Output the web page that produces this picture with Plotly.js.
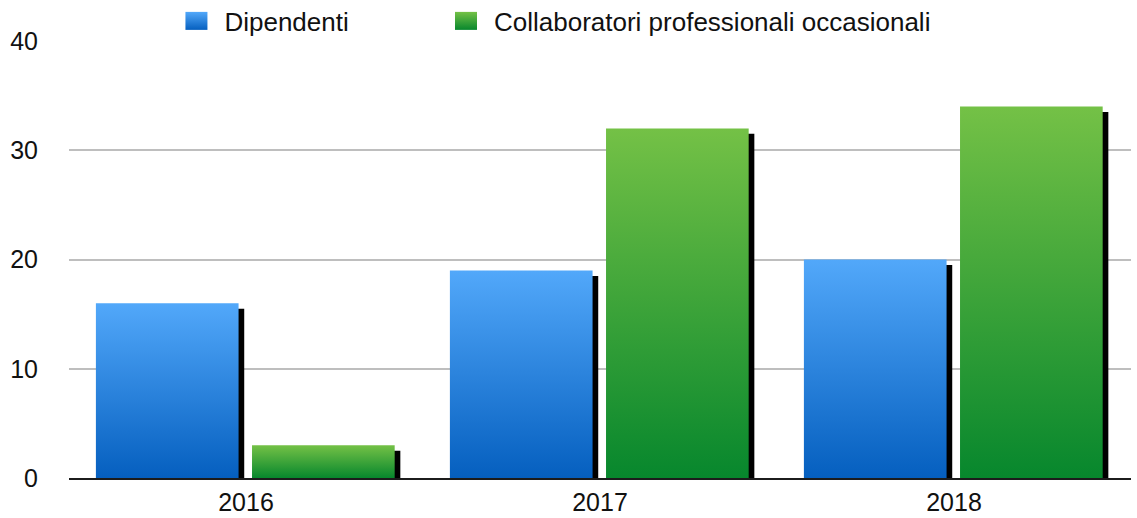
<!DOCTYPE html>
<html>
<head>
<meta charset="utf-8">
<script src="https://cdn.plot.ly/plotly-3.0.1.min.js"></script>
<style>
  html, body { margin: 0; padding: 0; background: #fff; }
  #chart { width: 1137px; height: 518px; }
</style>
</head>
<body>
<div id="chart"></div>
<script>
// ---- data ----
const categories = ['2016', '2017', '2018'];
const dipendenti = [16, 19, 20];
const collaboratori = [3, 32, 34];
const seriesNames = ['Dipendenti', 'Collaboratori professionali occasionali'];

// ---- styling ----
const FONT = 'Liberation Sans, Arial, Helvetica, sans-serif';
const BAR_W = 0.403;
const OFF_BLUE = -0.424;
const OFF_GREEN = 0.017;
const SH_DX = 0.016;   // shadow shift (x units)
const SH_DY = 0.5;     // shadow shift (y units)

function shadow(vals, off) {
  return {
    type: 'bar', x: categories, y: vals, base: -SH_DY,
    width: BAR_W, offset: off + SH_DX,
    marker: { color: '#000', line: { width: 0 } },
    showlegend: false, hoverinfo: 'skip', cliponaxis: false
  };
}

const data = [
  shadow(dipendenti, OFF_BLUE),
  shadow(collaboratori, OFF_GREEN),
  {
    type: 'bar', name: seriesNames[0], x: categories, y: dipendenti,
    width: BAR_W, offset: OFF_BLUE, legend: 'legend',
    marker: { color: '#2a7fdc', line: { width: 0 } }
  },
  {
    type: 'bar', name: seriesNames[1], x: categories, y: collaboratori,
    width: BAR_W, offset: OFF_GREEN, legend: 'legend2',
    marker: { color: '#3aa63a', line: { width: 0 } }
  }
];

const legendBase = {
  orientation: 'h', xanchor: 'left', y: 1.0458, yanchor: 'middle',
  font: { family: FONT, size: 26, color: '#111' },
  bgcolor: 'rgba(0,0,0,0)', borderwidth: 0
};

const layout = {
  width: 1137, height: 518,
  margin: { l: 69, r: 6, t: 41, b: 40, autoexpand: false },
  paper_bgcolor: '#fff', plot_bgcolor: '#fff',
  barmode: 'overlay',
  font: { family: FONT, color: '#111', size: 25 },
  showlegend: true,
  legend: Object.assign({}, legendBase, { x: 0.1087 }),
  legend2: Object.assign({}, legendBase, { x: 0.3625 }),
  xaxis: {
    type: 'category', range: [-0.5, 2.5],
    showgrid: false, zeroline: false,
    showline: true, linecolor: '#1c1c1c', linewidth: 2,
    ticks: '', ticklabelstandoff: 1,
    tickfont: { family: FONT, size: 25, color: '#111' }
  },
  yaxis: {
    range: [0, 40], tickvals: [0, 10, 20, 30, 40],
    showgrid: true, gridcolor: '#bebebe', gridwidth: 2,
    zeroline: false, showline: false,
    ticks: '', ticklabelstandoff: 30,
    tickfont: { family: FONT, size: 25, color: '#111' }
  }
};

function addGradient(defs, id, top, bottom) {
  const ns = 'http://www.w3.org/2000/svg';
  const g = document.createElementNS(ns, 'linearGradient');
  g.setAttribute('id', id);
  g.setAttribute('x1', '0'); g.setAttribute('y1', '0');
  g.setAttribute('x2', '0'); g.setAttribute('y2', '1');
  const s1 = document.createElementNS(ns, 'stop');
  s1.setAttribute('offset', '0'); s1.setAttribute('stop-color', top);
  const s2 = document.createElementNS(ns, 'stop');
  s2.setAttribute('offset', '1'); s2.setAttribute('stop-color', bottom);
  g.appendChild(s1); g.appendChild(s2);
  defs.appendChild(g);
}

Plotly.newPlot('chart', data, layout, { displayModeBar: false, staticPlot: true }).then(function (gd) {
  const svg = gd.querySelector('svg.main-svg');
  let defs = svg.querySelector('defs');
  if (!defs) { defs = document.createElementNS('http://www.w3.org/2000/svg', 'defs'); svg.insertBefore(defs, svg.firstChild); }
  addGradient(defs, 'gradBlue', '#52a8fa', '#055fbf');
  addGradient(defs, 'gradGreen', '#74c146', '#07872d');
  const traces = gd.querySelectorAll('.barlayer .trace');
  const fills = [null, null, 'url(#gradBlue)', 'url(#gradGreen)'];
  traces.forEach(function (t, i) {
    if (!fills[i]) return;
    t.querySelectorAll('path').forEach(function (p) { p.style.fill = fills[i]; });
  });
  const legendIds = ['legend', 'legend2'];
  const lf = ['url(#gradBlue)', 'url(#gradGreen)'];
  legendIds.forEach(function (id, i) {
    gd.querySelectorAll('.' + id + ' .scrollbox').forEach(function (s) { s.removeAttribute('clip-path'); });
    gd.querySelectorAll('.' + id + ' .legendpoints path').forEach(function (p) {
      p.setAttribute('d', 'M3,9H-19V-9H3Z');
      p.style.fill = lf[i];
      p.style.stroke = 'none';
    });
  });
});
</script>
</body>
</html>
